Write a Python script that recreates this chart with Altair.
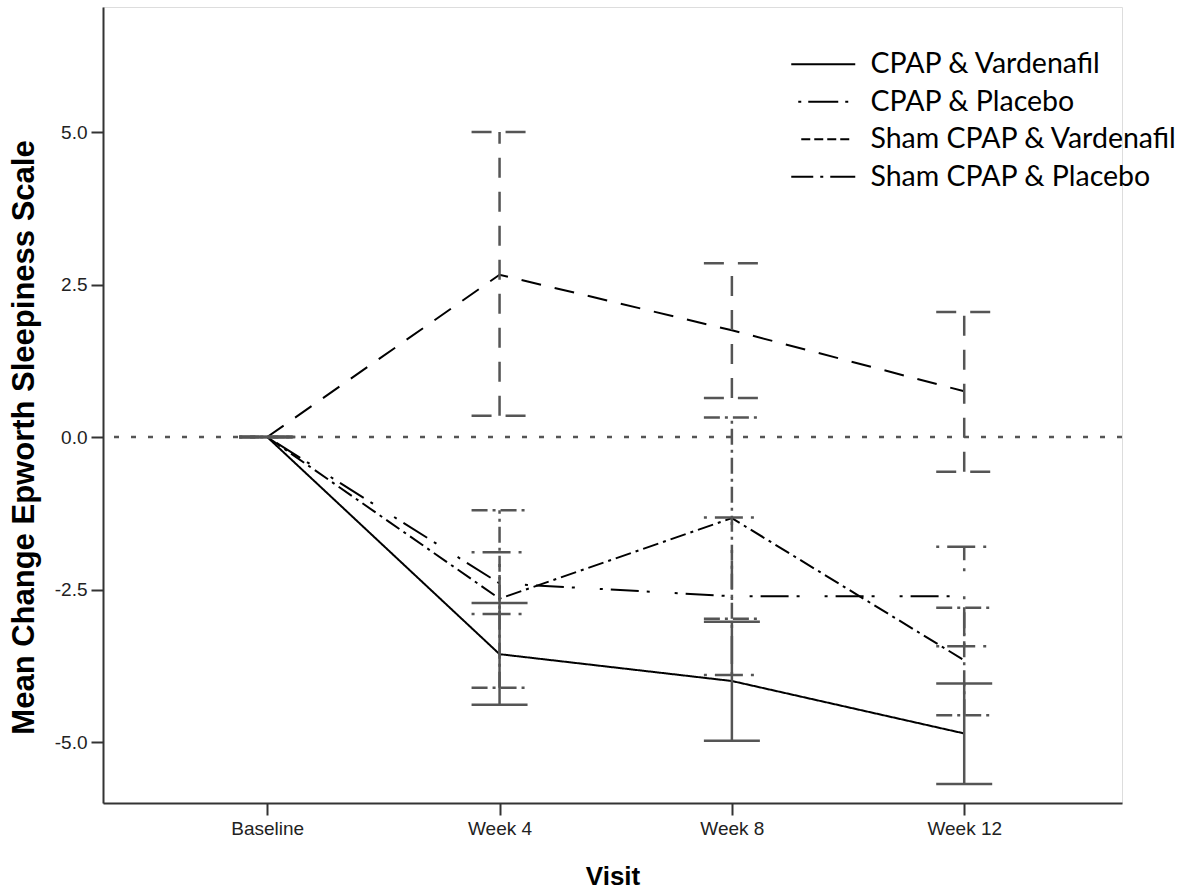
import altair as alt
import pandas as pd

visits = ["Baseline", "Week 4", "Week 8", "Week 12"]
series = ["CPAP & Vardenafil", "CPAP & Placebo", "Sham CPAP & Vardenafil", "Sham CPAP & Placebo"]

mean_cpap_vard = [0.0, -3.56, -4.00, -4.86]
lo_cpap_vard = [0.0, -4.39, -4.98, -5.69]
hi_cpap_vard = [0.0, -2.72, -3.03, -4.04]

mean_cpap_plac = [0.0, -2.40, -2.61, -2.61]
lo_cpap_plac = [0.0, -2.90, -3.90, -3.43]
hi_cpap_plac = [0.0, -1.89, -1.32, -1.80]

mean_sham_vard = [0.0, 2.66, 1.75, 0.75]
lo_sham_vard = [0.0, 0.35, 0.64, -0.57]
hi_sham_vard = [0.0, 5.00, 2.85, 2.05]

mean_sham_plac = [0.0, -2.65, -1.33, -3.66]
lo_sham_plac = [0.0, -4.11, -2.98, -4.56]
hi_sham_plac = [0.0, -1.20, 0.32, -2.80]

y_ticks = [-5.0, -2.5, 0.0, 2.5, 5.0]
reference = [0.0]
dashes = [[1, 0], [3, 8, 28, 8, 3, 25], [20, 14], [16, 5, 3, 5]]
legend_dashes = [[1, 0], [0, 7, 3, 7, 30, 7, 3, 100], [0, 10, 9, 4, 9, 4, 9, 4, 9, 100], [22, 7, 3, 7, 26, 100]]

means = [mean_cpap_vard, mean_cpap_plac, mean_sham_vard, mean_sham_plac]
los = [lo_cpap_vard, lo_cpap_plac, lo_sham_vard, lo_sham_plac]
his = [hi_cpap_vard, hi_cpap_plac, hi_sham_vard, hi_sham_plac]

rows = []
cap_rows = []
for s, m, lo, hi in zip(series, means, los, his):
    for i, v in enumerate(visits):
        rows.append({"series": s, "visit": v, "order": i, "mean": m[i], "lo": lo[i], "hi": hi[i]})
        cap_rows.append({"series": s, "visit": v, "value": lo[i]})
        cap_rows.append({"series": s, "visit": v, "value": hi[i]})
df = pd.DataFrame(rows)
caps = pd.DataFrame(cap_rows)
ref = pd.DataFrame({"y": reference})

FONT = "Liberation Sans"

x_scale = alt.Scale(type="point", domain=visits, padding=0.693, align=0.51)
y_scale = alt.Scale(domain=[-6.0, 7.05], nice=False, zero=False)
dash_scale = alt.Scale(domain=series, range=dashes)
legend_scale = alt.Scale(domain=series, range=legend_dashes)

x_enc = alt.X(
    "visit:O", scale=x_scale, sort=visits,
    axis=alt.Axis(
        title="Visit", titleFont=FONT, titleFontSize=26, titleFontWeight="bold",
        titleColor="black", titlePadding=25,
        labelFont=FONT, labelFontSize=19, labelColor="#222222", labelAngle=0,
        labelPadding=4, tickSize=12, tickColor="#333333", tickWidth=2,
        domainColor="#333333", domainWidth=2, grid=False,
    ),
)
y_enc = alt.Y(
    "mean:Q", scale=y_scale,
    axis=alt.Axis(
        title="Mean Change Epworth Sleepiness Scale", titleFont=FONT, titleFontSize=31,
        titleFontWeight="bold", titleColor="black", titleAngle=-90,
        titleX=-70, titleY=430, titleAlign="center", titleBaseline="alphabetic",
        values=y_ticks, format=".1f",
        labelExpr="replace(datum.label, '\u2212', '-')",
        labelFont=FONT, labelFontSize=19, labelColor="#222222", labelPadding=4,
        tickSize=12, tickColor="#333333", tickWidth=2,
        domainColor="#333333", domainWidth=2, grid=False,
    ),
)

zero_line = alt.Chart(ref).mark_rule(
    color="#555555", strokeWidth=2.5, strokeDash=[5, 12]
).encode(y=alt.Y("y:Q", scale=y_scale))

err_bars = alt.Chart(df).mark_rule(color="#555555", strokeWidth=2.5).encode(
    x=alt.X("visit:O", scale=x_scale, sort=visits),
    y=alt.Y("lo:Q", scale=y_scale),
    y2="hi:Q",
    strokeDash=alt.StrokeDash("series:N", scale=dash_scale, legend=None),
)

err_caps = alt.Chart(caps).mark_rule(
    color="#555555", strokeWidth=2.5, xOffset=-28, x2Offset=28
).encode(
    x=alt.X("visit:O", scale=x_scale, sort=visits),
    x2="visit",
    y=alt.Y("value:Q", scale=y_scale),
    strokeDash=alt.StrokeDash("series:N", scale=dash_scale, legend=None),
)

lines = alt.Chart(df).mark_line(color="black", strokeWidth=2).encode(
    x=x_enc,
    y=y_enc,
    order="order:Q",
    strokeDash=alt.StrokeDash("series:N", scale=dash_scale, legend=None),
)

# invisible layer that only carries the legend (SPSS-style legend glyphs)
legend_layer = alt.Chart(df).mark_line(color="black", strokeWidth=0).encode(
    x=alt.X("visit:O", scale=x_scale, sort=visits),
    y=alt.Y("mean:Q", scale=y_scale),
    order="order:Q",
    strokeDash=alt.StrokeDash(
        "series:N", scale=legend_scale,
        legend=alt.Legend(
            title=None, orient="none", legendX=706, legendY=43, padding=0,
            symbolType="M-4,0H4", symbolSize=256, symbolStrokeWidth=2,
            symbolStrokeColor="black", symbolFillColor="transparent",
            labelFont="Lato", labelFontSize=28.5, labelColor="black",
            labelOffset=33, rowPadding=8.5, labelLimit=600,
        ),
    ),
)

chart = alt.layer(lines, zero_line, err_bars, err_caps, legend_layer).resolve_scale(
    strokeDash="independent"
).properties(
    width=1019, height=796,
    autosize=alt.AutoSizeParams(type="none"),
    padding={"left": 103, "top": 7, "right": 67, "bottom": 87},
).configure_view(strokeWidth=0).configure(background="white")

chart.save("out.html", embed_options={"renderer": "svg", "actions": False})
